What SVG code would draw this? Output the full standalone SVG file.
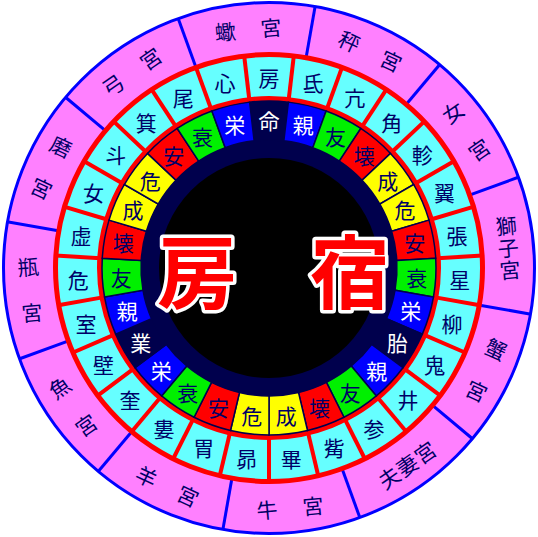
<svg xmlns="http://www.w3.org/2000/svg" xmlns:xlink="http://www.w3.org/1999/xlink" width="538" height="537" viewBox="0 0 538 537">
<style>
.t{font-family:"Noto Sans CJK JP","Noto Sans CJK SC",sans-serif;font-size:21px;text-anchor:middle;dominant-baseline:central;fill:#000066}
.w{fill:#ffffff}
.big{font-family:"Noto Sans CJK JP","Noto Sans CJK SC",sans-serif;font-size:80px;font-weight:bold;text-anchor:middle;dominant-baseline:central;fill:#ff0000;stroke:#ffffff;stroke-width:7;paint-order:stroke;stroke-linejoin:round}
.nv{fill:#00004d}.bl{fill:#0000ff}.gr{fill:#00f000}.rd{fill:#ff0000}.ye{fill:#ffff00}
.cell{stroke:#00004d;stroke-width:1.5}
.rl{stroke:#ff0000;stroke-width:4}
.bln{stroke:#0000ff;stroke-width:3}
</style>
<defs>
<path id="sec" d="M-19.39,-165.87A167,167 0 0 1 19.39,-165.87L14.86,-127.13A128,128 0 0 0 -14.86,-127.13Z"/>
<line id="redl" x1="0" y1="-169" x2="0" y2="-214" class="rl"/>
<line id="bluel" x1="0" y1="-214" x2="0" y2="-266" class="bln"/>
</defs>
<g transform="translate(269,268)">
<g id="rings">
<circle r="265.5" fill="#ff80ff" stroke="#0000ff" stroke-width="3"/>
<g id="palace-dividers">
<use href="#bluel" transform="rotate(10)"/><use href="#bluel" transform="rotate(40)"/><use href="#bluel" transform="rotate(70)"/><use href="#bluel" transform="rotate(100)"/><use href="#bluel" transform="rotate(130)"/><use href="#bluel" transform="rotate(160)"/><use href="#bluel" transform="rotate(190)"/><use href="#bluel" transform="rotate(220)"/><use href="#bluel" transform="rotate(250)"/><use href="#bluel" transform="rotate(280)"/><use href="#bluel" transform="rotate(310)"/><use href="#bluel" transform="rotate(340)"/>
</g>
<circle r="213.5" fill="#66ffff" stroke="#ff0000" stroke-width="5"/>
<g id="mansion-dividers">
<use href="#redl" transform="rotate(6.667)"/><use href="#redl" transform="rotate(20)"/><use href="#redl" transform="rotate(33.333)"/><use href="#redl" transform="rotate(46.667)"/><use href="#redl" transform="rotate(60)"/><use href="#redl" transform="rotate(73.333)"/><use href="#redl" transform="rotate(86.667)"/><use href="#redl" transform="rotate(100)"/><use href="#redl" transform="rotate(113.333)"/><use href="#redl" transform="rotate(126.667)"/><use href="#redl" transform="rotate(140)"/><use href="#redl" transform="rotate(153.333)"/><use href="#redl" transform="rotate(166.667)"/><use href="#redl" transform="rotate(180)"/><use href="#redl" transform="rotate(193.333)"/><use href="#redl" transform="rotate(206.667)"/><use href="#redl" transform="rotate(220)"/><use href="#redl" transform="rotate(233.333)"/><use href="#redl" transform="rotate(246.667)"/><use href="#redl" transform="rotate(260)"/><use href="#redl" transform="rotate(273.333)"/><use href="#redl" transform="rotate(286.667)"/><use href="#redl" transform="rotate(300)"/><use href="#redl" transform="rotate(313.333)"/><use href="#redl" transform="rotate(326.667)"/><use href="#redl" transform="rotate(340)"/><use href="#redl" transform="rotate(353.333)"/>
</g>
<circle r="169.5" fill="#00004d" stroke="#ff0000" stroke-width="5"/>
</g>
<g id="relation-cells">
<use href="#sec" class="cell nv" transform="rotate(0)"/>
<use href="#sec" class="cell bl" transform="rotate(13.333)"/>
<use href="#sec" class="cell gr" transform="rotate(26.667)"/>
<use href="#sec" class="cell rd" transform="rotate(40)"/>
<use href="#sec" class="cell ye" transform="rotate(53.333)"/>
<use href="#sec" class="cell ye" transform="rotate(66.667)"/>
<use href="#sec" class="cell rd" transform="rotate(80)"/>
<use href="#sec" class="cell gr" transform="rotate(93.333)"/>
<use href="#sec" class="cell bl" transform="rotate(106.667)"/>
<use href="#sec" class="cell nv" transform="rotate(120)"/>
<use href="#sec" class="cell bl" transform="rotate(133.333)"/>
<use href="#sec" class="cell gr" transform="rotate(146.667)"/>
<use href="#sec" class="cell rd" transform="rotate(160)"/>
<use href="#sec" class="cell ye" transform="rotate(173.333)"/>
<use href="#sec" class="cell ye" transform="rotate(186.667)"/>
<use href="#sec" class="cell rd" transform="rotate(200)"/>
<use href="#sec" class="cell gr" transform="rotate(213.333)"/>
<use href="#sec" class="cell bl" transform="rotate(226.667)"/>
<use href="#sec" class="cell nv" transform="rotate(240)"/>
<use href="#sec" class="cell bl" transform="rotate(253.333)"/>
<use href="#sec" class="cell gr" transform="rotate(266.667)"/>
<use href="#sec" class="cell rd" transform="rotate(280)"/>
<use href="#sec" class="cell ye" transform="rotate(293.333)"/>
<use href="#sec" class="cell ye" transform="rotate(306.667)"/>
<use href="#sec" class="cell rd" transform="rotate(320)"/>
<use href="#sec" class="cell gr" transform="rotate(333.333)"/>
<use href="#sec" class="cell bl" transform="rotate(346.667)"/>
</g>
<circle id="center" r="110" fill="#000000"/>
<g id="relation-labels">
<text class="t w" transform="rotate(0) translate(0,-148) rotate(0)">命</text>
<text class="t w" transform="rotate(13.333) translate(0,-148) rotate(-13.333)">親</text>
<text class="t" transform="rotate(26.667) translate(0,-148) rotate(-26.667)">友</text>
<text class="t" transform="rotate(40) translate(0,-148) rotate(-40)">壊</text>
<text class="t" transform="rotate(53.333) translate(0,-148) rotate(-53.333)">成</text>
<text class="t" transform="rotate(66.667) translate(0,-148) rotate(-66.667)">危</text>
<text class="t" transform="rotate(80) translate(0,-148) rotate(-80)">安</text>
<text class="t" transform="rotate(93.333) translate(0,-148) rotate(-93.333)">衰</text>
<text class="t w" transform="rotate(106.667) translate(0,-148) rotate(-106.667)">栄</text>
<text class="t w" transform="rotate(120) translate(0,-148) rotate(-120)">胎</text>
<text class="t w" transform="rotate(133.333) translate(0,-148) rotate(-133.333)">親</text>
<text class="t" transform="rotate(146.667) translate(0,-148) rotate(-146.667)">友</text>
<text class="t" transform="rotate(160) translate(0,-148) rotate(-160)">壊</text>
<text class="t" transform="rotate(173.333) translate(0,-148) rotate(-173.333)">成</text>
<text class="t" transform="rotate(186.667) translate(0,-148) rotate(-186.667)">危</text>
<text class="t" transform="rotate(200) translate(0,-148) rotate(-200)">安</text>
<text class="t" transform="rotate(213.333) translate(0,-148) rotate(-213.333)">衰</text>
<text class="t w" transform="rotate(226.667) translate(0,-148) rotate(-226.667)">栄</text>
<text class="t w" transform="rotate(240) translate(0,-148) rotate(-240)">業</text>
<text class="t w" transform="rotate(253.333) translate(0,-148) rotate(-253.333)">親</text>
<text class="t" transform="rotate(266.667) translate(0,-148) rotate(-266.667)">友</text>
<text class="t" transform="rotate(280) translate(0,-148) rotate(-280)">壊</text>
<text class="t" transform="rotate(293.333) translate(0,-148) rotate(-293.333)">成</text>
<text class="t" transform="rotate(306.667) translate(0,-148) rotate(-306.667)">危</text>
<text class="t" transform="rotate(320) translate(0,-148) rotate(-320)">安</text>
<text class="t" transform="rotate(333.333) translate(0,-148) rotate(-333.333)">衰</text>
<text class="t w" transform="rotate(346.667) translate(0,-148) rotate(-346.667)">栄</text>
</g>
<g id="mansion-labels">
<text class="t" transform="rotate(0) translate(0,-191) rotate(0)">房</text>
<text class="t" transform="rotate(13.333) translate(0,-191) rotate(-13.333)">氐</text>
<text class="t" transform="rotate(26.667) translate(0,-191) rotate(-26.667)">亢</text>
<text class="t" transform="rotate(40) translate(0,-191) rotate(-40)">角</text>
<text class="t" transform="rotate(53.333) translate(0,-191) rotate(-53.333)">軫</text>
<text class="t" transform="rotate(66.667) translate(0,-191) rotate(-66.667)">翼</text>
<text class="t" transform="rotate(80) translate(0,-191) rotate(-80)">張</text>
<text class="t" transform="rotate(93.333) translate(0,-191) rotate(-93.333)">星</text>
<text class="t" transform="rotate(106.667) translate(0,-191) rotate(-106.667)">柳</text>
<text class="t" transform="rotate(120) translate(0,-191) rotate(-120)">鬼</text>
<text class="t" transform="rotate(133.333) translate(0,-191) rotate(-133.333)">井</text>
<text class="t" transform="rotate(146.667) translate(0,-191) rotate(-146.667)">参</text>
<text class="t" transform="rotate(160) translate(0,-191) rotate(-160)">觜</text>
<text class="t" transform="rotate(173.333) translate(0,-191) rotate(-173.333)">畢</text>
<text class="t" transform="rotate(186.667) translate(0,-191) rotate(-186.667)">昴</text>
<text class="t" transform="rotate(200) translate(0,-191) rotate(-200)">胃</text>
<text class="t" transform="rotate(213.333) translate(0,-191) rotate(-213.333)">婁</text>
<text class="t" transform="rotate(226.667) translate(0,-191) rotate(-226.667)">奎</text>
<text class="t" transform="rotate(240) translate(0,-191) rotate(-240)">壁</text>
<text class="t" transform="rotate(253.333) translate(0,-191) rotate(-253.333)">室</text>
<text class="t" transform="rotate(266.667) translate(0,-191) rotate(-266.667)">危</text>
<text class="t" transform="rotate(280) translate(0,-191) rotate(-280)">虚</text>
<text class="t" transform="rotate(293.333) translate(0,-191) rotate(-293.333)">女</text>
<text class="t" transform="rotate(306.667) translate(0,-191) rotate(-306.667)">斗</text>
<text class="t" transform="rotate(320) translate(0,-191) rotate(-320)">箕</text>
<text class="t" transform="rotate(333.333) translate(0,-191) rotate(-333.333)">尾</text>
<text class="t" transform="rotate(346.667) translate(0,-191) rotate(-346.667)">心</text>
</g>
<g id="palace-labels">
<g id="p-sasori" transform="rotate(-5) translate(0,-240)"><text class="t"><tspan x="-23">蠍</tspan><tspan x="23">宮</tspan></text></g>
<g id="p-hakari" transform="rotate(25) translate(0,-240)"><text class="t"><tspan x="-23">秤</tspan><tspan x="23">宮</tspan></text></g>
<g id="p-otome" transform="rotate(55) translate(0,-240) rotate(-90)"><text class="t"><tspan x="0" y="-23">女</tspan><tspan x="0" y="23">宮</tspan></text></g>
<g id="p-shishi" transform="rotate(85) translate(0,-240) rotate(-90)"><text class="t"><tspan x="0" y="-22">獅</tspan><tspan x="0" y="0">子</tspan><tspan x="0" y="22">宮</tspan></text></g>
<g id="p-kani" transform="rotate(115) translate(0,-240) rotate(-90)"><text class="t"><tspan x="0" y="-23">蟹</tspan><tspan x="0" y="23">宮</tspan></text></g>
<g id="p-fusai" transform="rotate(145) translate(0,-240) rotate(180)"><text class="t"><tspan x="-22">夫</tspan><tspan x="0">妻</tspan><tspan x="22">宮</tspan></text></g>
<g id="p-ushi" transform="rotate(175) translate(0,-240) rotate(180)"><text class="t"><tspan x="-23">牛</tspan><tspan x="23">宮</tspan></text></g>
<g id="p-hitsuji" transform="rotate(205) translate(0,-240) rotate(180)"><text class="t"><tspan x="-23">羊</tspan><tspan x="23">宮</tspan></text></g>
<g id="p-uo" transform="rotate(235) translate(0,-240) rotate(90)"><text class="t"><tspan x="0" y="-23">魚</tspan><tspan x="0" y="23">宮</tspan></text></g>
<g id="p-kame" transform="rotate(265) translate(0,-240) rotate(90)"><text class="t"><tspan x="0" y="-23">瓶</tspan><tspan x="0" y="23">宮</tspan></text></g>
<g id="p-ma" transform="rotate(295) translate(0,-240) rotate(90)"><text class="t"><tspan x="0" y="-23">磨</tspan><tspan x="0" y="23">宮</tspan></text></g>
<g id="p-yumi" transform="rotate(325) translate(0,-240)"><text class="t"><tspan x="-23">弓</tspan><tspan x="23">宮</tspan></text></g>
</g>
</g>
<g id="title">
<text class="big" x="197" y="267">房</text>
<text class="big" x="350" y="267">宿</text>
</g>
</svg>
